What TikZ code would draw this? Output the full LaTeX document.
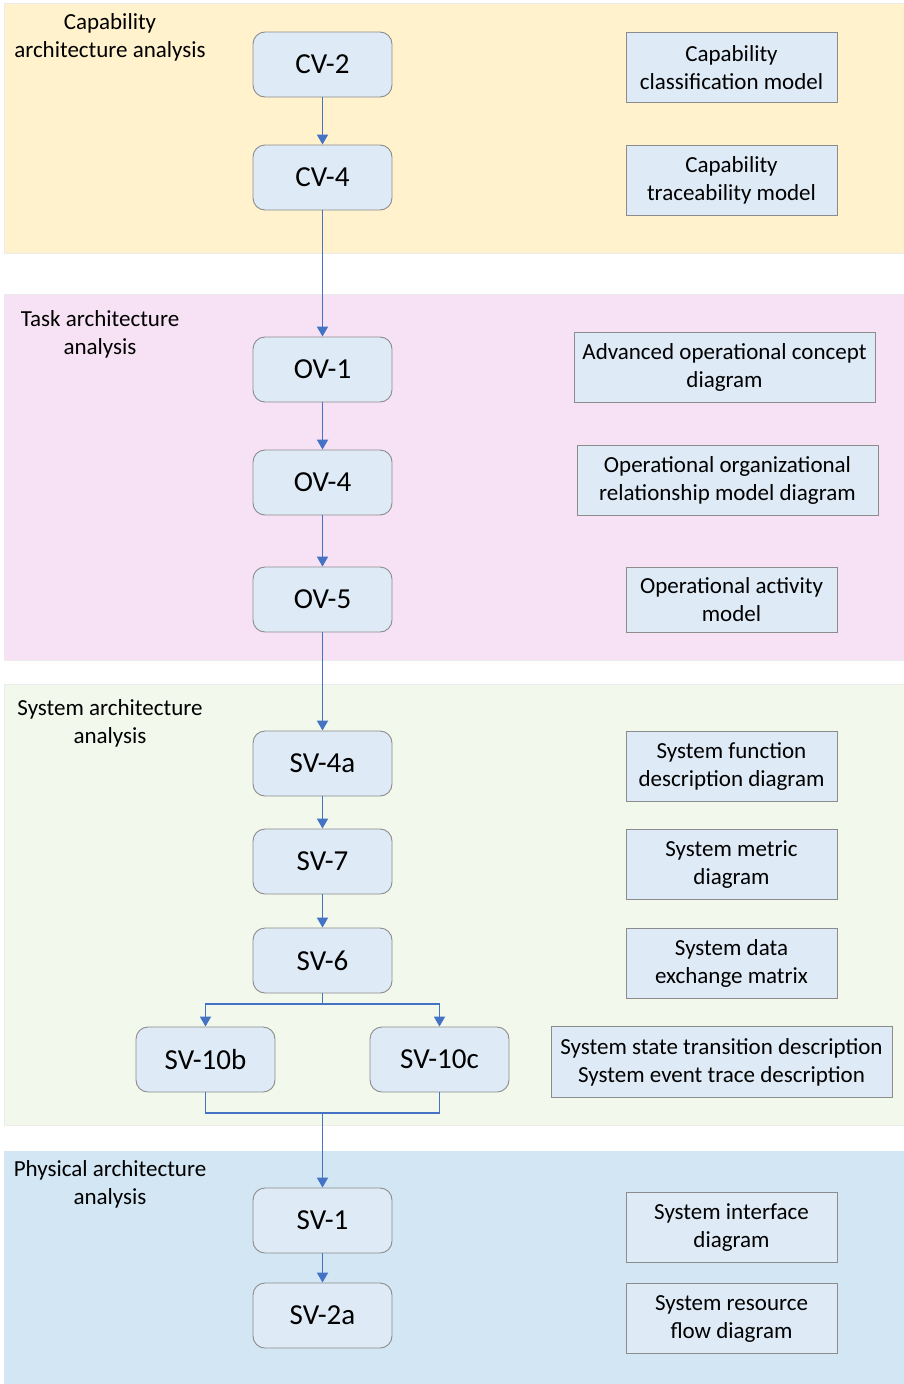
\documentclass[tikz,border=0pt]{standalone}
\usepackage{fontspec}
\setmainfont{Carlito}
\usetikzlibrary{arrows.meta}
\definecolor{pyellow}{HTML}{FFF2CC}
\definecolor{ppink}{HTML}{F7E1F4}
\definecolor{pgreen}{HTML}{F2F8EC}
\definecolor{pblue}{HTML}{D2E6F4}
\definecolor{boxfill}{HTML}{DEEAF5}
\definecolor{boxline}{HTML}{8C8C8C}
\definecolor{arrowblue}{HTML}{4472C4}
\tikzset{
  panel/.style={draw=black!8, line width=0.8pt},
  viewbox/.style={draw=boxline, fill=boxfill, rounded corners=12pt, line width=0.9pt,
    minimum width=139pt, minimum height=65pt, inner sep=0pt, font=\fontsize{29}{34}\selectfont},
  descbox/.style={draw=boxline, fill=boxfill, line width=0.9pt, inner sep=0pt,
    align=center, font=\fontsize{23}{28}\selectfont},
  paneltitle/.style={align=center, font=\fontsize{23}{28}\selectfont, inner sep=0pt},
  flow/.style={draw=arrowblue, line width=1.8pt, -{Triangle[width=11pt,length=10pt]}},
  flowline/.style={draw=arrowblue, line width=1.8pt}
}
\begin{document}
\begin{tikzpicture}[x=1pt,y=-1pt]
\useasboundingbox (0,0) rectangle (904,1384);
% panels
\fill[pyellow] (4,3) rectangle (904,253);
\draw[panel] (4,3) rectangle (904,253);
\fill[ppink] (4,294) rectangle (904,660);
\draw[panel] (4,294) rectangle (904,660);
\fill[pgreen] (4,684) rectangle (904,1125);
\draw[panel] (4,684) rectangle (904,1125);
\fill[pblue] (4,1151) rectangle (904,1384);
% panel titles
\node[paneltitle] (t1) at (110,37.5) {Capability\\architecture analysis};
\node[paneltitle] (t2) at (100,334.5) {Task architecture\\analysis};
\node[paneltitle] (t3) at (110,723.5) {System architecture\\analysis};
\node[paneltitle] (t4) at (110,1184.5) {Physical architecture\\analysis};
% view boxes
\node[viewbox] (cv2) at (322.5,64.5) {CV-2};
\node[viewbox] (cv4) at (322.5,177.5) {CV-4};
\node[viewbox] (ov1) at (322.5,369.5) {OV-1};
\node[viewbox] (ov4) at (322.5,482.5) {OV-4};
\node[viewbox] (ov5) at (322.5,599.5) {OV-5};
\node[viewbox] (sv4a) at (322.5,763.5) {SV-4a};
\node[viewbox] (sv7) at (322.5,861.5) {SV-7};
\node[viewbox] (sv6) at (322.5,960.5) {SV-6};
\node[viewbox] (sv10b) at (205.5,1059.5) {SV-10b};
\node[viewbox] (sv10c) at (439.5,1059.5) {SV-10c};
\node[viewbox] (sv1) at (322.5,1220.5) {SV-1};
\node[viewbox] (sv2a) at (322.5,1315.5) {SV-2a};
% description boxes
\node[descbox, minimum width=211pt, minimum height=70pt] (d1) at (731.5,67.5) {Capability\\classification model};
\node[descbox, minimum width=211pt, minimum height=70pt] (d2) at (731.5,180.5) {Capability\\traceability model};
\node[descbox, minimum width=301pt, minimum height=70pt] (d3) at (724.5,367.5) {Advanced operational concept\\diagram};
\node[descbox, minimum width=301pt, minimum height=70pt] (d4) at (727.5,480.5) {Operational organizational\\relationship model diagram};
\node[descbox, minimum width=211pt, minimum height=65pt] (d5) at (731.5,600) {Operational activity\\model};
\node[descbox, minimum width=211pt, minimum height=70pt] (d6) at (731.5,766.5) {System function\\description diagram};
\node[descbox, minimum width=211pt, minimum height=70pt] (d7) at (731.5,864.5) {System metric\\diagram};
\node[descbox, minimum width=211pt, minimum height=70pt] (d8) at (731.5,963.5) {System data\\exchange matrix};
\node[descbox, minimum width=341pt, minimum height=71pt] (d9) at (721.5,1062) {System state transition description\\System event trace description};
\node[descbox, minimum width=211pt, minimum height=70pt] (d10) at (731.5,1227.5) {System interface\\diagram};
\node[descbox, minimum width=211pt, minimum height=70pt] (d11) at (731.5,1318.5) {System resource\\flow diagram};
% connectors
\draw[flow] (cv2) -- (cv4);
\draw[flow] (cv4) -- (ov1);
\draw[flow] (ov1) -- (ov4);
\draw[flow] (ov4) -- (ov5);
\draw[flow] (ov5) -- (sv4a);
\draw[flow] (sv4a) -- (sv7);
\draw[flow] (sv7) -- (sv6);
\coordinate (split) at (322.5,1004);
\coordinate (join) at (322.5,1113);
\draw[flowline] (sv6.south) -- (split);
\draw[flow] (split) -| (sv10b.north);
\draw[flow] (split) -| (sv10c.north);
\draw[flowline] (sv10b.south) |- (join);
\draw[flowline] (sv10c.south) |- (join);
\draw[flow] (join) -- (sv1.north);
\draw[flow] (sv1) -- (sv2a);
\end{tikzpicture}
\end{document}
